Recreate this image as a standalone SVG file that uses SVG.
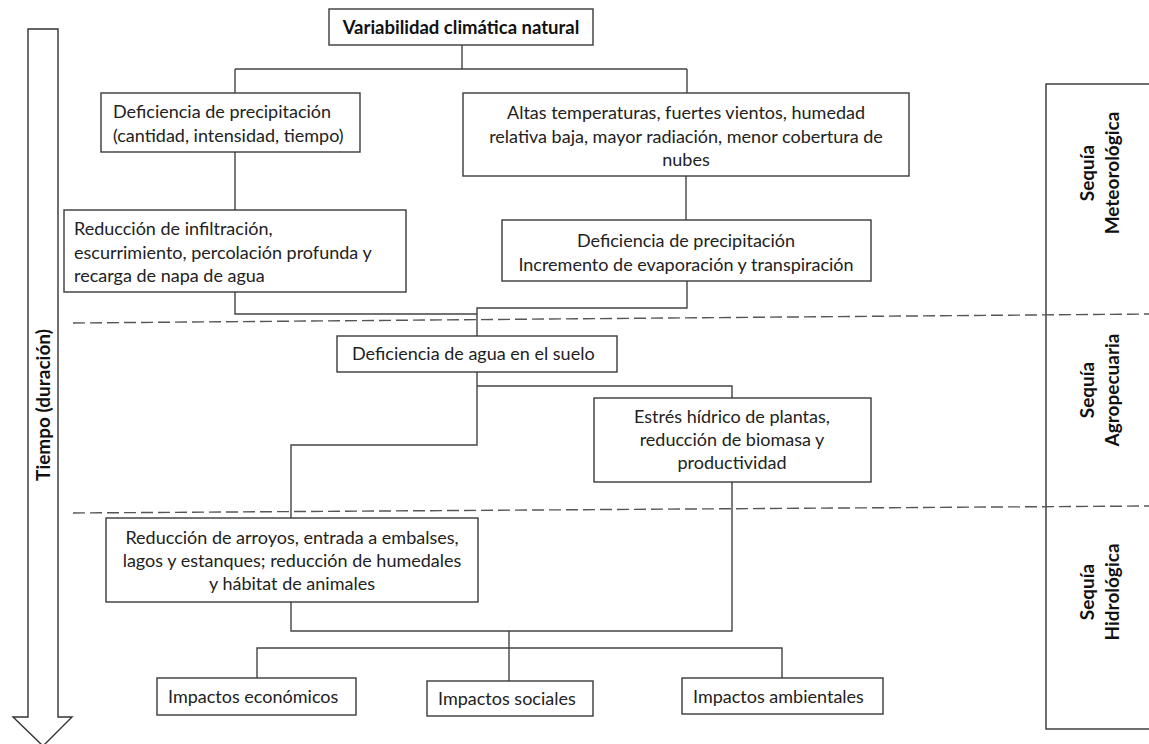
<svg xmlns="http://www.w3.org/2000/svg" width="1149" height="744" viewBox="0 0 1149 744">
<style>
.box{fill:#fff;stroke:#3a3a3a;stroke-width:1.4}
.con{fill:none;stroke:#444;stroke-width:1.4}
.dash{fill:none;stroke:#555;stroke-width:1.4;stroke-dasharray:12,5}
text{font-family:Lato,"Open Sans","Liberation Sans",sans-serif;font-size:18px;fill:#222}
.b{font-weight:bold;fill:#111}
.v{font-size:19px}
.c{text-anchor:middle}
</style>
<rect width="1149" height="744" fill="#fff"/>
<g id="time-arrow">
<path d="M28,29 H58 V717 H72 L43,746 L13,717 H28 Z" fill="#fff" stroke="#333" stroke-width="1.4"/>
<text class="b v c" transform="translate(50,405) rotate(-90)">Tiempo (duración)</text>
</g>
<g id="stages">
<rect x="1046" y="84" width="110" height="645" fill="none" stroke="#333" stroke-width="1.4"/>
<text class="b v c" transform="translate(1094,173) rotate(-90)">Sequía</text>
<text class="b v c" transform="translate(1119,173) rotate(-90)">Meteorológica</text>
<text class="b v c" transform="translate(1094,390) rotate(-90)">Sequía</text>
<text class="b v c" transform="translate(1119,390) rotate(-90)">Agropecuaria</text>
<text class="b v c" transform="translate(1094,592) rotate(-90)">Sequía</text>
<text class="b v c" transform="translate(1119,592) rotate(-90)">Hidrológica</text>
</g>
<g id="dividers">
<path class="dash" d="M73,323 L1149,314"/>
<path class="dash" d="M73,513 L1149,506"/>
</g>
<g id="connectors">
<path class="con" d="M462,45 V69 M235,69 H687 M235,69 V93 M687,69 V93"/>
<path class="con" d="M235,152 V210"/>
<path class="con" d="M686,176 V220"/>
<path class="con" d="M235,292 V314 H477"/>
<path class="con" d="M687,281 V308 H477 V336"/>
<path class="con" d="M477,372 V445 H291 V518"/>
<path class="con" d="M477,386 H732 V398"/>
<path class="con" d="M732,482 V631 H291 V602"/>
<path class="con" d="M509,631 V681"/>
<path class="con" d="M257,678 V648 H782 V678"/>
</g>
<g id="n-variabilidad">
<rect class="box" x="329" y="9" width="264" height="36"/>
<text class="b c" x="461" y="34" style="font-size:18.5px">Variabilidad climática natural</text>
</g>
<g id="n-deficiencia1">
<rect class="box" x="101" y="93" width="259" height="59"/>
<text x="113" y="118">Deficiencia de precipitación</text>
<text x="113" y="142">(cantidad, intensidad, tiempo)</text>
</g>
<g id="n-altas">
<rect class="box" x="463" y="93" width="446" height="83"/>
<text class="c" x="686" y="119">Altas temperaturas, fuertes vientos, humedad</text>
<text class="c" x="686" y="143">relativa baja, mayor radiación, menor cobertura de</text>
<text class="c" x="686" y="166">nubes</text>
</g>
<g id="n-reduccion-inf">
<rect class="box" x="64" y="210" width="342" height="82"/>
<text x="74" y="235">Reducción de infiltración,</text>
<text x="74" y="259">escurrimiento, percolación profunda y</text>
<text x="74" y="282">recarga de napa de agua</text>
</g>
<g id="n-deficiencia2">
<rect class="box" x="502" y="220" width="369" height="61"/>
<text class="c" x="686" y="247">Deficiencia de precipitación</text>
<text class="c" x="686" y="271">Incremento  de evaporación y transpiración</text>
</g>
<g id="n-agua">
<rect class="box" x="337" y="336" width="280" height="36"/>
<text x="352" y="360">Deficiencia de agua en el suelo</text>
</g>
<g id="n-estres">
<rect class="box" x="594" y="398" width="277" height="84"/>
<text class="c" x="732" y="423">Estrés hídrico de plantas,</text>
<text class="c" x="732" y="446">reducción de biomasa y</text>
<text class="c" x="732" y="469">productividad</text>
</g>
<g id="n-arroyos">
<rect class="box" x="106" y="518" width="372" height="84"/>
<text class="c" x="292" y="544">Reducción de arroyos, entrada a embalses,</text>
<text class="c" x="292" y="567">lagos y estanques; reducción de humedales</text>
<text class="c" x="292" y="590">y hábitat de animales</text>
</g>
<g id="n-economicos">
<rect class="box" x="157" y="678" width="199" height="37"/>
<text x="168" y="703">Impactos económicos</text>
</g>
<g id="n-sociales">
<rect class="box" x="427" y="681" width="166" height="35"/>
<text x="438" y="705">Impactos sociales</text>
</g>
<g id="n-ambientales">
<rect class="box" x="682" y="678" width="201" height="36"/>
<text x="693" y="703">Impactos ambientales</text>
</g>
</svg>
